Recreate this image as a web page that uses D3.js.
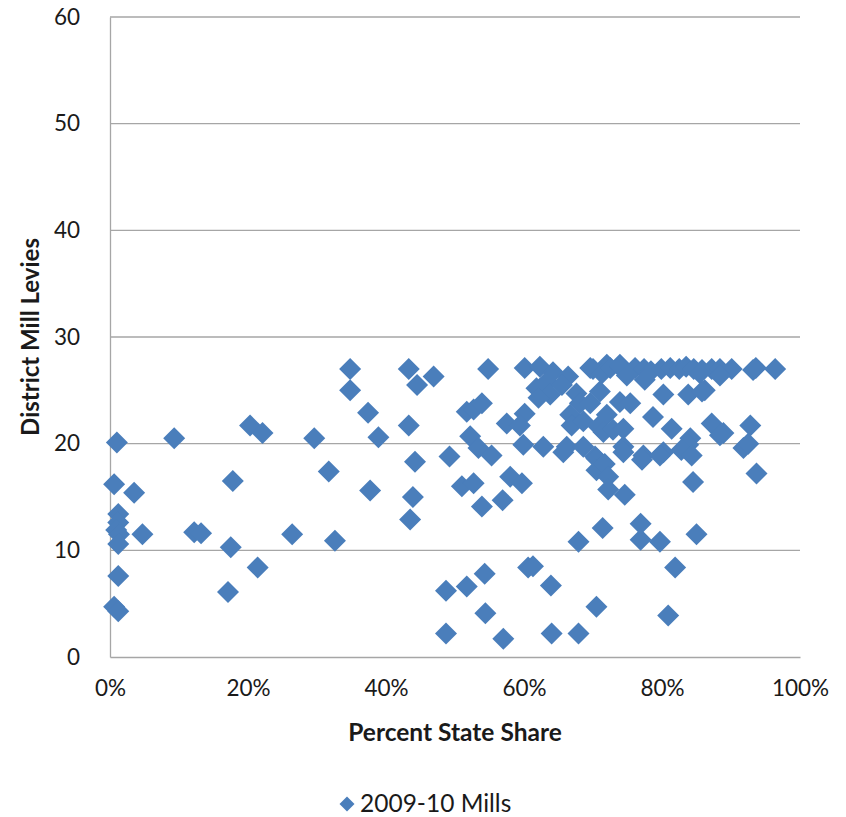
<!DOCTYPE html>
<html>
<head>
<meta charset="utf-8">
<script src="https://cdn.jsdelivr.net/npm/d3@7"></script>
<style>
  html, body { margin: 0; padding: 0; background: #fff; }
  svg { display: block; }
  text { font-family: Lato, "Open Sans", sans-serif; fill: #1a1a1a; }
</style>
</head>
<body>
<svg id="chart" width="846" height="817"></svg>
<script>
// Percent state share (x, in %) and district mill levies (y) for each district
const stateShare = [
  1.0, 9.3, 20.3, 22.1, 29.6, 31.7, 0.6, 3.5, 17.8, 1.2, 1.2, 0.9, 1.3, 1.2, 4.7, 12.2, 13.2, 26.4, 32.6, 17.5,
  21.4, 1.2, 17.1, 0.6, 1.2,
  34.8, 34.8, 43.3, 44.5, 46.9, 54.8, 37.4, 38.9, 43.3, 44.2, 49.2, 37.7, 43.9, 43.5, 51.0, 52.7, 53.9, 56.9, 58.0, 59.7,
  51.7, 52.7, 53.9, 52.2, 53.4, 55.3, 48.7, 51.7, 54.3, 60.6, 61.3, 63.9, 54.4, 48.7, 57.0, 64.0, 67.9, 67.9,
  60.1, 62.3, 64.2, 66.4, 69.6, 72.0, 73.9, 61.8, 63.3, 63.8, 62.1, 65.5, 67.6, 68.1, 69.6, 71.0, 72.0, 73.9,
  66.7, 66.9, 68.6, 60.1, 57.5, 59.4, 70.8, 71.5, 72.9, 59.9, 62.8, 65.7, 70.3, 74.4,
  70.0, 71.3, 72.5, 73.9, 76.1, 77.4, 78.4, 79.9, 81.2, 82.5, 83.5, 84.6, 85.8, 87.2, 88.4, 90.1, 93.2, 93.6, 96.4,
  74.9, 77.5, 85.5, 88.4, 86.2, 80.2, 83.8, 85.8, 75.4, 78.7, 81.4, 87.2, 88.9, 84.1, 83.8, 74.4, 74.4, 77.3, 80.2,
  82.8, 84.3, 91.8, 92.8, 92.5, 93.7, 84.5, 70.5, 70.5, 71.7, 72.2, 72.2, 74.6, 70.5, 80.9, 81.9, 71.4, 76.9, 76.9,
  79.7, 85.0, 88.4, 66.2, 68.6, 77.1, 79.7
];
const millLevies = [
  20.1, 20.5, 21.7, 21.0, 20.5, 17.4, 16.2, 15.4, 16.5, 13.4, 12.6, 11.9, 11.5, 10.6, 11.5, 11.7, 11.6, 11.5, 10.9, 10.3,
  8.4, 7.6, 6.1, 4.7, 4.3,
  27.0, 25.0, 27.0, 25.5, 26.3, 27.0, 22.9, 20.6, 21.7, 18.3, 18.8, 15.6, 15.0, 12.9, 16.0, 16.3, 14.1, 14.7, 16.9, 16.3,
  23.0, 23.2, 23.8, 20.7, 19.6, 18.9, 6.2, 6.6, 7.8, 8.4, 8.5, 6.7, 4.1, 2.2, 1.7, 2.2, 2.2, 10.8,
  27.1, 27.2, 26.7, 26.3, 27.1, 27.4, 27.4, 25.2, 25.8, 24.6, 24.3, 25.5, 24.7, 23.8, 23.8, 24.9, 22.7, 23.9,
  22.7, 21.7, 22.1, 22.8, 21.9, 21.7, 21.6, 21.1, 21.3, 19.9, 19.7, 19.2, 18.8, 19.7,
  27.0, 26.6, 27.1, 27.2, 27.1, 27.0, 26.8, 27.0, 27.1, 27.0, 27.2, 27.0, 26.9, 27.0, 27.0, 27.0, 26.9, 27.1, 27.0,
  26.4, 26.0, 26.6, 26.4, 25.0, 24.6, 24.6, 24.9, 23.8, 22.5, 21.4, 21.9, 21.0, 20.5, 19.9, 21.4, 19.2, 18.9, 19.2,
  19.4, 18.9, 19.6, 21.7, 20.0, 17.2, 16.4, 18.6, 17.5, 18.1, 16.9, 15.7, 15.2, 4.7, 3.9, 8.4, 12.1, 12.5, 11.0,
  10.8, 11.5, 20.8, 19.7, 19.7, 18.5, 18.9
];
const xTicks = [0, 20, 40, 60, 80, 100];
const yTicks = [0, 10, 20, 30, 40, 50, 60];
const seriesName = "2009-10 Mills";
const xTitle = "Percent State Share";
const yTitle = "District Mill Levies";

const points = stateShare.map((x, i) => ({ x, y: millLevies[i] }));

const svg = d3.select("#chart");
const plot = { left: 110, right: 800, top: 17, bottom: 657 };
const markerColor = "#4a7ebb";
const gridColor = "#a6a6a6";

const x = d3.scaleLinear().domain([0, 100]).range([plot.left, plot.right]);
const y = d3.scaleLinear().domain([0, 60]).range([plot.bottom, plot.top]);

// horizontal gridlines
svg.append("g")
  .selectAll("line")
  .data(yTicks.filter(t => t > 0))
  .join("line")
  .attr("x1", plot.left).attr("x2", plot.right)
  .attr("y1", d => y(d)).attr("y2", d => y(d))
  .attr("stroke", gridColor).attr("stroke-width", 1.3);

// y axis
const yAxis = svg.append("g")
  .attr("transform", `translate(${plot.left},0)`)
  .call(d3.axisLeft(y).tickValues(yTicks).tickSize(0).tickPadding(30));
yAxis.select(".domain").attr("stroke", gridColor).attr("stroke-width", 1.3);
yAxis.selectAll("text").attr("font-size", 22.5).attr("font-family", "Lato, sans-serif").attr("fill", "#1a1a1a");

// x axis
const xAxis = svg.append("g")
  .attr("transform", `translate(0,${plot.bottom})`)
  .call(d3.axisBottom(x).tickValues(xTicks).tickSize(0).tickPadding(23).tickFormat(d => d + "%"));
xAxis.select(".domain").attr("stroke", gridColor).attr("stroke-width", 1.3);
xAxis.selectAll("text").attr("font-size", 22.5).attr("font-family", "Lato, sans-serif").attr("fill", "#1a1a1a");

// axis titles
svg.append("text")
  .attr("x", (plot.left + plot.right) / 2).attr("y", 741)
  .attr("text-anchor", "middle")
  .attr("font-size", 24.5).attr("font-weight", "bold")
  .text(xTitle);

svg.append("text")
  .attr("transform", `translate(39,${(plot.top + plot.bottom) / 2}) rotate(-90)`)
  .attr("text-anchor", "middle")
  .attr("font-size", 24).attr("font-weight", "bold")
  .text(yTitle);

// diamond markers
const diamond = h => `M0,${-h}L${h},0L0,${h}L${-h},0Z`;

svg.append("g")
  .selectAll("path")
  .data(points)
  .join("path")
  .attr("transform", d => `translate(${x(d.x)},${y(d.y)})`)
  .attr("d", diamond(11))
  .attr("fill", markerColor);

// legend
const legend = svg.append("g").attr("transform", "translate(347,804)");
legend.append("path").attr("d", diamond(7.5)).attr("fill", markerColor);
legend.append("text")
  .attr("x", 13).attr("y", 8)
  .attr("font-size", 24.5)
  .text(seriesName);
</script>
</body>
</html>
